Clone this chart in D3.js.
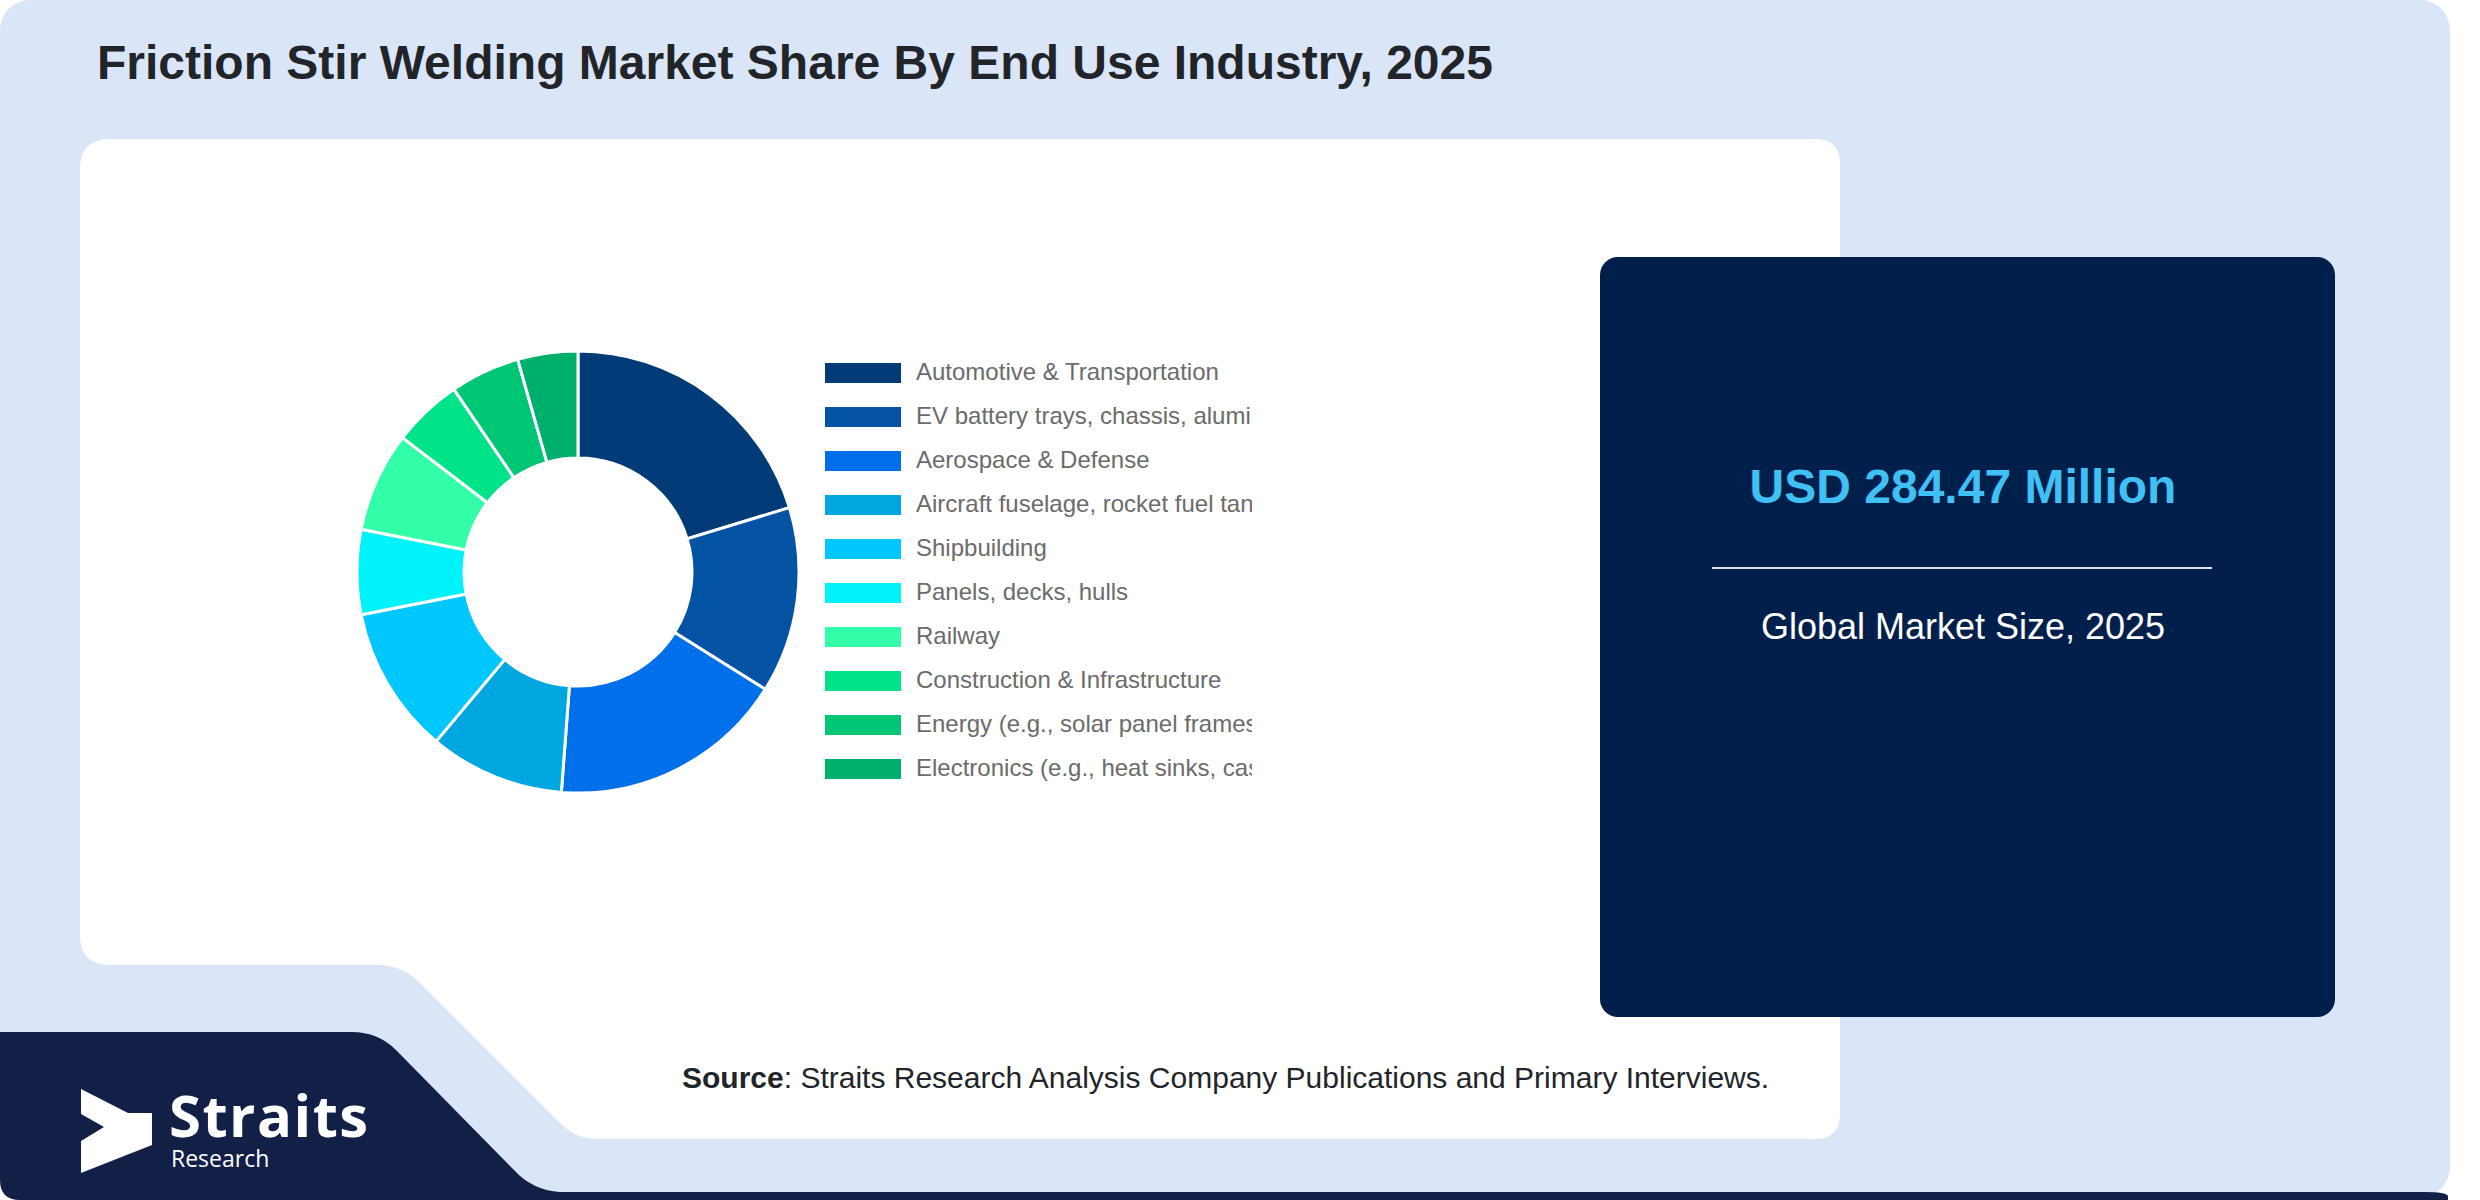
<!DOCTYPE html>
<html>
<head>
<meta charset="utf-8">
<script src="https://cdn.jsdelivr.net/npm/d3@7"></script>
<style>
  body { margin: 0; background: #fff; }
  svg { display: block; }
</style>
</head>
<body>
<div id="chart"></div>
<script>
var w = 2480;
var h = 1200;

// *** chart data ***
var chartTitle = "Friction Stir Welding Market Share By End Use Industry, 2025";
var categories = [
  "Automotive & Transportation",
  "EV battery trays, chassis, aluminum body panels",
  "Aerospace & Defense",
  "Aircraft fuselage, rocket fuel tanks",
  "Shipbuilding",
  "Panels, decks, hulls",
  "Railway",
  "Construction & Infrastructure",
  "Energy (e.g., solar panel frames, wind turbines)",
  "Electronics (e.g., heat sinks, casings)"
];
var shares = [20.3, 13.6, 17.3, 9.9, 10.8, 6.2, 7.3, 5.1, 5.1, 4.4]; // %
var colors = ["#023b77", "#0352a3", "#006fea", "#00a6e0", "#00c8ff",
              "#00f2fb", "#33ffa9", "#00e38b", "#00c676", "#00af6c"];
var marketValue = "USD 284.47 Million";
var marketLabel = "Global Market Size, 2025";
var sourceLabel = "Source";
var sourceText = ": Straits Research Analysis Company Publications and Primary Interviews.";
// ******************

var font = "'Liberation Sans', Arial, sans-serif";

var svg = d3.select("#chart")
    .append("svg")
    .attr("width", w)
    .attr("height", h);

// light blue backdrop
svg.append("rect")
    .attr("x", 0).attr("y", 0)
    .attr("width", 2450).attr("height", 1197)
    .attr("rx", 30)
    .attr("fill", "#dae6f8");

// navy footer band with the slanted edge
svg.append("path")
    .attr("d", "M0,1032 H352 Q378,1032 396,1050 L514,1170 Q532,1190 560,1192 H2425 Q2446,1192 2448,1196 V1200 H20 Q0,1200 0,1180 Z")
    .attr("fill", "#122048");

// white chart card with the notch at the bottom left
svg.append("path")
    .attr("d", "M110,139 H1815 Q1840,139 1840,164 V1114 Q1840,1139 1815,1139 H600 Q577,1140 560,1123 L420,983 Q402,965 378,965 H110 Q80,965 80,935 V169 Q80,139 110,139 Z")
    .attr("fill", "#ffffff");

// title
svg.append("text")
    .attr("x", 97)
    .attr("y", 79)
    .attr("font-family", font)
    .attr("font-weight", "bold")
    .attr("font-size", 48)
    .attr("fill", "#212529")
    .text(chartTitle);

// donut
var cx = 578, cy = 572;
var pie = d3.pie().sort(null).value(function(d) { return d; });
var arc = d3.arc().innerRadius(114).outerRadius(221);
var color = d3.scaleOrdinal().domain(categories).range(colors);

var g = svg.append("g")
    .attr("transform", "translate(" + cx + "," + cy + ")");

g.selectAll(".slice")
  .data(pie(shares))
  .enter().append("path")
    .attr("class", "slice")
    .attr("d", arc)
    .attr("fill", function(d, i) { return color(categories[i]); })
    .attr("stroke", "#fff")
    .attr("stroke-width", 3);

// legend (labels cut off at the legend box edge)
svg.append("clipPath")
    .attr("id", "legclip")
  .append("rect")
    .attr("x", 800).attr("y", 340)
    .attr("width", 452).attr("height", 460);

var legY = d3.scaleBand().domain(categories).range([363, 363 + 44 * categories.length]);

var leg = svg.append("g")
    .attr("clip-path", "url(#legclip)");

var item = leg.selectAll(".item")
  .data(categories)
  .enter().append("g")
    .attr("class", "item")
    .attr("transform", function(d) { return "translate(825," + legY(d) + ")"; });

item.append("rect")
    .attr("width", 76)
    .attr("height", 20)
    .attr("fill", function(d) { return color(d); });

item.append("text")
    .attr("x", 91)
    .attr("y", 17)
    .attr("font-family", font)
    .attr("font-size", 24)
    .attr("fill", "#6b6b6b")
    .text(function(d) { return d; });

// market size card
svg.append("rect")
    .attr("x", 1600).attr("y", 257)
    .attr("width", 735).attr("height", 760)
    .attr("rx", 18)
    .attr("fill", "#011f4b");

svg.append("text")
    .attr("x", 1963)
    .attr("y", 503)
    .attr("text-anchor", "middle")
    .attr("font-family", font)
    .attr("font-weight", "bold")
    .attr("font-size", 48)
    .attr("fill", "#3fc1f5")
    .text(marketValue);

svg.append("line")
    .attr("x1", 1712).attr("x2", 2212)
    .attr("y1", 568).attr("y2", 568)
    .attr("stroke", "#dfe4ea")
    .attr("stroke-width", 2);

svg.append("text")
    .attr("x", 1963)
    .attr("y", 639)
    .attr("text-anchor", "middle")
    .attr("font-family", font)
    .attr("font-size", 36)
    .attr("fill", "#ffffff")
    .text(marketLabel);

// source line
var src = svg.append("text")
    .attr("x", 682)
    .attr("y", 1088)
    .attr("font-family", font)
    .attr("font-size", 30)
    .attr("fill", "#212529");
src.append("tspan").attr("font-weight", "bold").text(sourceLabel);
src.append("tspan").text(sourceText);

// logo
svg.append("polygon")
    .attr("points", "81,1089 128,1113 152,1113 152,1145 81,1173 81,1141 104,1127 81,1114")
    .attr("fill", "#ffffff");

svg.append("text")
    .attr("x", 169)
    .attr("y", 1137)
    .attr("font-family", "'Open Sans', 'Noto Sans', sans-serif")
    .attr("font-weight", "bold")
    .attr("font-size", 58)
    .attr("letter-spacing", 1.5)
    .attr("fill", "#ffffff")
    .text("Straits");

svg.append("text")
    .attr("x", 171)
    .attr("y", 1167)
    .attr("font-family", "'Open Sans', 'Noto Sans', sans-serif")
    .attr("font-size", 23)
    .attr("fill", "#ffffff")
    .text("Research");
</script>
</body>
</html>
